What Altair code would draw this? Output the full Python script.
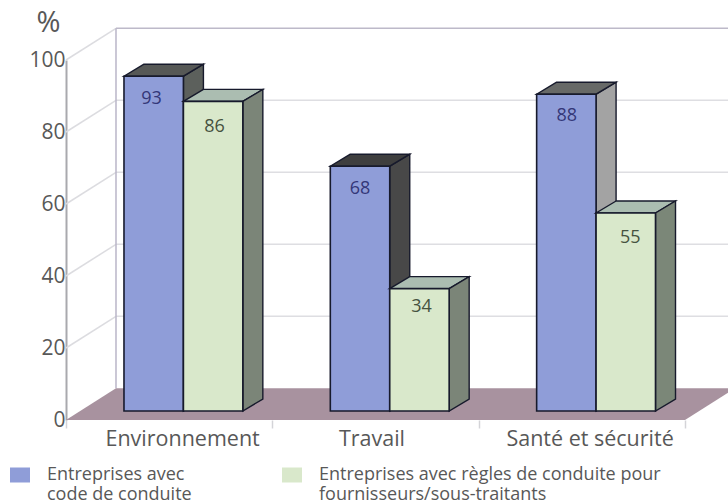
import altair as alt
import pandas as pd

# Survey shares per topic, in percent
categories = ["Environnement", "Travail", "Santé et sécurité"]
code_values = [93, 68, 88]
rules_values = [86, 34, 55]
y_ticks = [0, 20, 40, 60, 80, 100]
x_ticks = [0, 1, 2, 3]

series_code = "Entreprises avec\ncode de conduite"
series_rules = "Entreprises avec règles de conduite pour\nfournisseurs/sous-traitants"
label_centres = [0.565, 1.483, 2.54]

# Value labels sit by hand inside each front face: shift across, drop below the top
code_label_shift = [-0.01, 0.0, 0.002]
rules_label_shift = [0.007, 0.01, 0.022]
code_label_drop = [6.3, 6.4, 6.1]
rules_label_drop = [7.0, 5.0, 7.0]

# Face shades for the pseudo-3D bars
code_sides = ["#5c605c", "#484848", "#a3a3a3"]
code_tops = ["#565856", "#3e3e3e", "#676967"]
rules_sides = ["#7b8578", "#7b8578", "#7b8778"]
rules_tops = ["#abbdb1", "#abbdb1", "#abbdb1"]

# Projection constants, in scale units
WALL_DX, WALL_DY = 0.2423, 8.8
BAR_DX, BAR_DY = 0.097, 3.33
BAR_LIFT = 2.5
BAR_START, BAR_W = 0.281, 0.288
RIGHT_END = 3.25

WIDTH, HEIGHT = 619, 360
x_scale = alt.Scale(domain=[0, 3], nice=False, zero=False)
y_scale = alt.Scale(domain=[0, 100], nice=False, zero=False)
INK = "#171a2c"
TEXT = "#585858"
FONT = "Open Sans"

# The same axis objects are shared by every layer
x_axis = alt.Axis(
    values=x_ticks, labels=False, grid=False, domain=False, title=None,
    tickColor="#d4d4d8", tickSize=8, tickWidth=1.5,
)
y_axis = alt.Axis(
    values=y_ticks, grid=False, title="%", titleAngle=0, titleX=-18, titleY=-38,
    titleAlign="center", titleBaseline="middle", titleFont=FONT, titleFontSize=29,
    titleFontWeight="normal", titleColor=TEXT,
    labelFont=FONT, labelFontSize=21, labelColor=TEXT, labelPadding=1,
    domainColor="#a9a9ae", domainWidth=2, ticks=False,
)


def X(field="x"):
    return alt.X(f"{field}:Q", scale=x_scale, axis=x_axis)


def Y(field="y"):
    return alt.Y(f"{field}:Q", scale=y_scale, axis=y_axis)


# Build side, top and front faces from the values
side_rows, top_rows, front_rows = [], [], []
for i, cat in enumerate(categories):
    for s, (values, sides, tops, name, shift, drop) in enumerate(
        [(code_values, code_sides, code_tops, series_code, code_label_shift, code_label_drop),
         (rules_values, rules_sides, rules_tops, series_rules, rules_label_shift, rules_label_drop)]
    ):
        x0 = i + BAR_START + s * BAR_W
        x1 = x0 + BAR_W
        v = values[i] + BAR_LIFT
        fid = f"{i}-{s}"
        side_rows += [
            dict(id=fid, s=s, shade=sides[i], x=x1, y=v, y2=BAR_LIFT),
            dict(id=fid, s=s, shade=sides[i], x=x1 + BAR_DX, y=v + BAR_DY, y2=BAR_LIFT + BAR_DY),
        ]
        top_rows += [
            dict(id=fid, s=s, shade=tops[i], x=x0, x2=x1, y=v),
            dict(id=fid, s=s, shade=tops[i], x=x0 + BAR_DX, x2=x1 + BAR_DX, y=v + BAR_DY),
        ]
        front_rows.append(dict(s=s, series=name, x=x0, x2=x1, y=BAR_LIFT, y2=v,
                               xc=x0 + BAR_W / 2 + shift[i], ly=v - drop[i], value=values[i]))

sides_df = pd.DataFrame(side_rows)
tops_df = pd.DataFrame(top_rows)
fronts_df = pd.DataFrame(front_rows)

# Floor parallelogram
floor = alt.Chart(pd.DataFrame({
    "x": [0, WALL_DX], "x2": [3, 3 + WALL_DX], "y": [0, WALL_DY],
})).mark_area(orient="horizontal", color="#a8929f").encode(
    y=Y(), x=X(), x2="x2:Q",
)

# Gridlines across the side wall and the back wall
grid_df = pd.DataFrame({"t": y_ticks})
grid_df["yb"] = grid_df["t"] + WALL_DY
grid_df["xb"] = WALL_DX
grid_df["x0"] = 0.0
grid_df["xe"] = RIGHT_END
side_grid = alt.Chart(grid_df[grid_df.t > 0]).mark_rule(color="#dcdce0", strokeWidth=1.5).encode(
    x=X("x0"), x2="xb:Q", y=Y("t"), y2="yb:Q",
)
back_grid = alt.Chart(grid_df[(grid_df.t > 0) & (grid_df.t < 100)]).mark_rule(
    color="#dedee2", strokeWidth=1.5
).encode(x=X("xb"), x2="xe:Q", y=Y("yb"))
back_top = alt.Chart(grid_df[grid_df.t == 100]).mark_rule(
    color="#bdb9c9", strokeWidth=1.5
).encode(x=X("xb"), x2="xe:Q", y=Y("yb"))
back_edge = alt.Chart(pd.DataFrame({"x": [WALL_DX], "y": [WALL_DY], "y2": [100 + WALL_DY]})).mark_rule(
    color="#b9b5c8", strokeWidth=1.5
).encode(x=X(), y=Y(), y2="y2:Q")


def side_layer(s):
    return alt.Chart(sides_df[sides_df.s == s]).mark_area(
        stroke=INK, strokeWidth=1.4
    ).encode(
        x=X(), y=Y(), y2="y2:Q", detail="id:N",
        fill=alt.Fill("shade:N", scale=None),
    )


def top_layer(s):
    return alt.Chart(tops_df[tops_df.s == s]).mark_area(
        orient="horizontal", stroke=INK, strokeWidth=1.4
    ).encode(
        y=Y(), x=X(), x2="x2:Q", detail="id:N",
        fill=alt.Fill("shade:N", scale=None),
    )


def front_layer(s):
    return alt.Chart(fronts_df[fronts_df.s == s]).mark_rect(
        stroke=INK, strokeWidth=1.6
    ).encode(
        x=X(), x2="x2:Q", y=Y(), y2="y2:Q",
        color=alt.Color("series:N", scale=alt.Scale(
            domain=[series_code, series_rules], range=["#8f9dd8", "#d9e8cb"]),
            legend=alt.Legend(
                orient="none", legendX=-56, legendY=405, columns=2, columnPadding=90,
                title=None, symbolType="M-1,-0.75H1V0.75H-1Z", symbolSize=400,
                symbolStrokeWidth=0, labelFont=FONT, labelFontSize=18, labelColor=TEXT,
                labelOffset=17, labelLimit=500, labelBaseline="middle",
                labelExpr="split(datum.label, '\\n')",
            )),
    )


def value_layer(s, colour):
    return alt.Chart(fronts_df[fronts_df.s == s]).mark_text(
        font=FONT, fontSize=18, color=colour, baseline="middle"
    ).encode(x=X("xc"), y=Y("ly"), text="value:Q")


cat_df = pd.DataFrame({"cat": categories, "xc": label_centres, "y": [-5.6] * 3})
cat_labels = alt.Chart(cat_df).mark_text(
    font=FONT, fontSize=21.5, color=TEXT, baseline="middle"
).encode(x=X("xc"), y=Y(), text="cat:N")

chart = alt.layer(
    back_grid, back_top, side_grid, back_edge, floor,
    side_layer(0), top_layer(0), front_layer(0),
    top_layer(1), side_layer(1), front_layer(1),
    value_layer(0, "#343778"), value_layer(1, "#46523f"),
    cat_labels,
).properties(
    width=WIDTH, height=HEIGHT,
    padding={"left": 66, "top": 60, "right": 43, "bottom": 84},
    autosize=alt.AutoSizeParams(type="none"),
    background="#ffffff",
).configure_view(stroke=None)

chart.save("out.html", embed_options={"renderer": "svg", "actions": False})
